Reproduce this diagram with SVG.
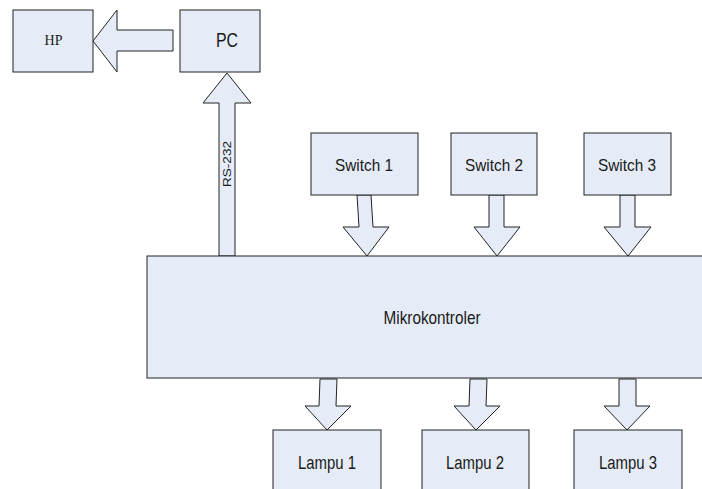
<svg xmlns="http://www.w3.org/2000/svg" width="702" height="489" viewBox="0 0 702 489">
<style>
.box{fill:#E5ECF7;stroke:#222;stroke-width:1}
.arr{fill:#E5ECF7;stroke:#222;stroke-width:1;stroke-linejoin:miter}
.t{font-family:"Liberation Sans",Arial,sans-serif;fill:#1a1a1a;text-anchor:middle}
.s{font-family:"Liberation Serif","Times New Roman",serif;fill:#1a1a1a;text-anchor:middle}
</style>
<rect width="702" height="489" fill="#fff"/>
<g id="connectors">
<polygon class="arr" points="173,30 117,30 117,10 93,41 117,72 117,51 173,51"/>
<polygon class="arr" points="219,256 219,103 203,103 227,73 251,103 235,103 235,256"/>
<polygon class="arr" points="357,195 371,195 373,227 389,227 367,256 343,227 359,227"/>
<polygon class="arr" points="489,195 504,195 504,227 520,227 497,256 474,227 489,227"/>
<polygon class="arr" points="620,195 635,195 635,227 651,227 628,256 604,227 620,227"/>
<polygon class="arr" points="320,379 337,379 336,406 351,406 327,430 305,406 319,406"/>
<polygon class="arr" points="470,379 487,379 486,406 500,406 476,430 454,406 469,406"/>
<polygon class="arr" points="619,379 636,379 636,406 650,406 627,430 604,406 619,406"/>
<text class="t" font-size="11" transform="translate(231,164) rotate(-90)" textLength="46" lengthAdjust="spacingAndGlyphs">RS-232</text>
</g>
<g id="hp"><rect class="box" x="13" y="10" width="80" height="62"/><text class="s" x="53.5" y="45" font-size="14">HP</text></g>
<g id="pc"><rect class="box" x="180" y="10" width="80" height="62"/><text class="t" x="227" y="47" font-size="21" textLength="22" lengthAdjust="spacingAndGlyphs">PC</text></g>
<g id="switch1"><rect class="box" x="311" y="133" width="107" height="62"/><text class="t" x="364" y="171" font-size="17" textLength="58" lengthAdjust="spacingAndGlyphs">Switch 1</text></g>
<g id="switch2"><rect class="box" x="451" y="133" width="86" height="62"/><text class="t" x="494" y="171" font-size="17" textLength="58" lengthAdjust="spacingAndGlyphs">Switch 2</text></g>
<g id="switch3"><rect class="box" x="584" y="133" width="87" height="62"/><text class="t" x="627" y="171" font-size="17" textLength="58" lengthAdjust="spacingAndGlyphs">Switch 3</text></g>
<g id="mikrokontroler"><rect class="box" x="147" y="256" width="570" height="122"/><text class="t" x="432" y="324" font-size="19" textLength="97" lengthAdjust="spacingAndGlyphs">Mikrokontroler</text></g>
<g id="lampu1"><rect class="box" x="273" y="430" width="108" height="70"/><text class="t" x="327" y="469" font-size="19" textLength="58" lengthAdjust="spacingAndGlyphs">Lampu 1</text></g>
<g id="lampu2"><rect class="box" x="422" y="430" width="107" height="70"/><text class="t" x="475" y="469" font-size="19" textLength="58" lengthAdjust="spacingAndGlyphs">Lampu 2</text></g>
<g id="lampu3"><rect class="box" x="574" y="430" width="108" height="70"/><text class="t" x="628" y="469" font-size="19" textLength="58" lengthAdjust="spacingAndGlyphs">Lampu 3</text></g>
</svg>
